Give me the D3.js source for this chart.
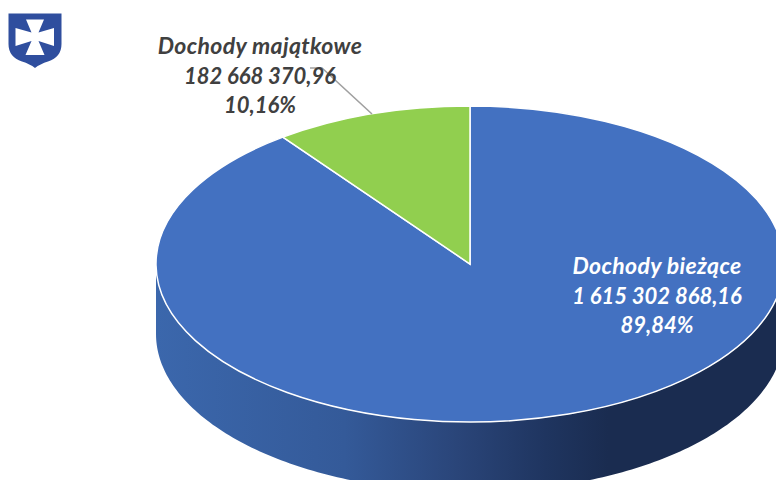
<!DOCTYPE html>
<html>
<head>
<meta charset="utf-8">
<title>Dochody</title>
<script src="https://d3js.org/d3.v7.min.js"></script>
<style>
html, body { margin: 0; padding: 0; background: #fff; overflow: hidden; }
svg { display: block; }
text { font-family: Lato, sans-serif; font-weight: 700; font-style: italic; font-size: 22px; text-anchor: middle; }
text.name { font-size: 23px; letter-spacing: 0.35px; }
</style>
</head>
<body>
<svg id="chart" width="776" height="480"></svg>
<script>
var categories = ["Dochody bieżące", "Dochody majątkowe"];
var amounts = [1615302868.16, 182668370.96];
var amountLabels = ["1 615 302 868,16", "182 668 370,96"];
var percentLabels = ["89,84%", "10,16%"];
var colors = ["#4371c1", "#91cf4f"];
var labelColors = ["#ffffff", "#404040"];

var width = 776, height = 480;
var cx = 470, cy = 264;
var rx = 314, ry = 158;
var depth = 70;

var svg = d3.select("#chart");

// side wall gradient, runs left to right
var grad = svg.append("defs").append("linearGradient")
  .attr("id", "side")
  .attr("gradientUnits", "userSpaceOnUse")
  .attr("x1", cx - rx).attr("x2", cx + rx)
  .attr("y1", 0).attr("y2", 0);
grad.selectAll("stop")
  .data([[0, "#3b67ac"], [0.3, "#345a99"], [0.48, "#2a4579"], [0.62, "#1f3560"], [0.72, "#1a2c50"], [1, "#1a2c50"]])
  .enter().append("stop")
  .attr("offset", function (d) { return d[0]; })
  .attr("stop-color", function (d) { return d[1]; });

// lower half of the ellipse, pushed down by depth
var sideAngles = d3.range(90, 270.5, 1).map(function (a) { return a * Math.PI / 180; });
var sideArea = d3.area()
  .x(function (a) { return cx + rx * Math.sin(a); })
  .y0(function (a) { return cy - ry * Math.cos(a); })
  .y1(function (a) { return cy - ry * Math.cos(a) + depth; });

svg.append("path")
  .attr("d", sideArea(sideAngles))
  .attr("fill", "url(#side)");

// top face: a circle squashed to the ellipse
var pie = d3.pie().sort(null);
var arc = d3.arc().innerRadius(0).outerRadius(rx);

svg.append("g")
  .attr("transform", "translate(" + cx + "," + cy + ") scale(1," + (ry / rx) + ")")
  .selectAll("path")
  .data(pie(amounts))
  .enter().append("path")
  .attr("d", arc)
  .attr("fill", function (d, i) { return colors[i]; })
  .attr("stroke", "#fff")
  .attr("stroke-width", 1.5)
  .attr("vector-effect", "non-scaling-stroke");

// leader line for the small slice
svg.append("path")
  .attr("d", d3.line()([[310, 68], [322, 68], [372, 114]]))
  .attr("fill", "none")
  .attr("stroke", "#a0a0a0")
  .attr("stroke-width", 1.6);

// labels
var labelX = [657, 260];
var labelY = [274, 54];
var lineGap = 29.5;

categories.forEach(function (name, i) {
  var lines = [name, amountLabels[i], percentLabels[i]];
  svg.append("g").selectAll("text")
    .data(lines)
    .enter().append("text")
    .attr("class", function (d, j) { return j == 0 ? "name" : null; })
    .attr("x", labelX[i])
    .attr("y", function (d, j) { return labelY[i] + j * lineGap; })
    .attr("fill", labelColors[i])
    .text(function (d) { return d; });
});

// herb in the corner
var logo = svg.append("g");
logo.append("path")
  .attr("d", "M8.5 13.5 H61.5 V44 Q61.5 57 48 61.5 Q40 64 35 68 Q30 64 22 61.5 Q8.5 57 8.5 44 Z")
  .attr("fill", "#2f4e9e");
logo.append("path")
  .attr("d", "M26 19.5 H44 L38.5 32.5 L54 28 V46 L38.5 41 L44.5 55 H25.5 L31.5 41 L15.5 46 V28 L31.5 32.5 Z")
  .attr("fill", "#fff");
</script>
</body>
</html>
